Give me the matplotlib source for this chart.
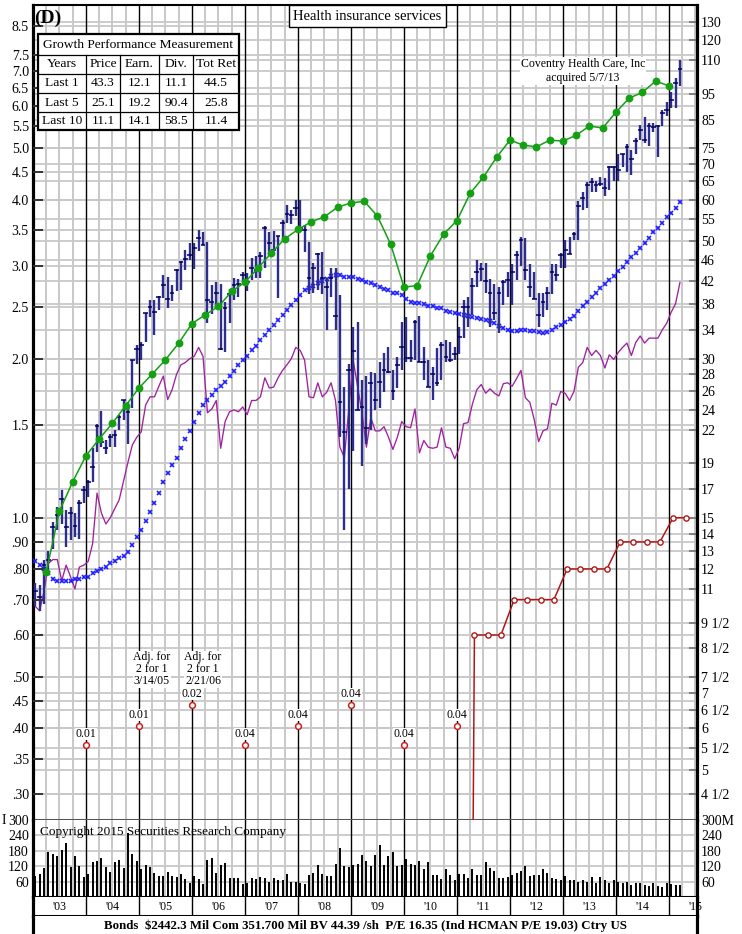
import numpy as np
import matplotlib
matplotlib.use("Agg")
import matplotlib.pyplot as plt
from matplotlib.patches import Rectangle
from matplotlib.ticker import NullLocator

plt.rcParams['font.family'] = ['Liberation Serif', 'DejaVu Serif']

W, H = 742, 934

# monthly price bars, Jan 2003 .. Mar 2015 (right-hand price scale)
price_high = [11.3, 11.2, 12.5, 13.0, 14.7, 15.7, 16.9, 15.5, 15.7, 15.3, 16.2, 17.2, 17.7,
              20.3, 22.6, 23.9, 21.0, 21.6, 22.0, 23.5, 25.0, 24.8, 29.8, 31.8, 32.2, 36.6,
              38.7, 38.7, 39.4, 43.2, 42.8, 41.3, 44.3, 45.8, 48.1, 49.7, 49.7, 52.5, 52.1,
              49.9, 41.3, 41.8, 41.6, 38.4, 40.7, 42.6, 42.4, 43.7, 43.5, 46.6, 47.0, 47.7,
              53.4, 52.0, 52.3, 51.2, 54.8, 58.5, 57.3, 59.8, 59.8, 53.6, 49.9, 45.5, 47.5,
              47.7, 42.6, 44.5, 44.5, 39.5, 26.5, 29.3, 34.5, 35.2, 27.3, 27.8, 28.3, 28.2,
              29.5, 30.8, 31.5, 28.5, 30.2, 35.2, 36.0, 32.5, 35.5, 36.1, 31.5, 29.8, 28.9,
              31.4, 32.2, 32.5, 32.2, 31.5, 34.4, 38.7, 39.2, 42.6, 46.1, 45.5, 45.5, 42.4,
              41.6, 41.0, 42.2, 43.7, 45.3, 47.9, 51.0, 50.7, 45.3, 43.7, 40.0, 40.0, 41.0,
              45.3, 45.3, 47.5, 50.3, 51.0, 52.0, 59.5, 62.0, 64.7, 66.0, 65.0, 66.3, 66.0,
              69.5, 69.5, 73.3, 73.3, 76.3, 74.4, 78.4, 82.9, 86.0, 83.7, 83.7, 83.1, 88.6,
              91.7, 95.9, 102.0, 110.1]
price_low = [10.2, 10.0, 10.3, 11.8, 13.1, 14.2, 14.6, 13.2, 13.6, 13.8, 13.7, 16.0, 16.4,
             17.5, 20.0, 20.4, 19.8, 20.4, 20.4, 22.0, 23.0, 20.7, 24.2, 29.3, 29.8, 32.2,
             35.9, 33.3, 37.1, 39.0, 37.4, 38.5, 40.2, 40.4, 44.1, 46.1, 44.4, 48.0, 49.2,
             35.0, 36.5, 37.4, 31.1, 30.9, 35.0, 38.7, 39.3, 41.8, 40.2, 42.2, 42.6, 42.6,
             44.5, 46.9, 48.1, 39.0, 49.9, 54.2, 53.9, 55.8, 53.0, 47.7, 39.7, 39.9, 40.4,
             39.7, 34.0, 39.2, 34.0, 21.3, 14.2, 17.0, 20.1, 24.0, 18.8, 20.7, 22.0, 24.0,
             24.2, 25.9, 28.2, 25.0, 26.4, 28.5, 29.6, 29.6, 29.8, 29.6, 27.3, 26.5, 25.0,
             26.6, 27.3, 29.5, 29.5, 29.8, 30.6, 32.8, 34.4, 36.3, 40.9, 42.0, 40.0, 34.4,
             35.5, 33.5, 37.9, 39.2, 37.9, 42.2, 45.0, 42.2, 39.2, 38.9, 34.4, 35.9, 37.1,
             39.7, 42.0, 44.5, 44.5, 47.3, 50.3, 50.3, 57.3, 57.8, 61.9, 61.9, 63.5, 61.0,
             62.5, 64.9, 64.9, 69.0, 67.5, 66.7, 73.0, 77.7, 76.7, 75.9, 80.4, 72.3, 82.5,
             86.2, 89.5, 89.5, 98.5]
price_close = [10.9, 10.6, 12.2, 12.5, 14.4, 15.2, 16.3, 14.4, 15.3, 14.5, 16.0, 16.9, 17.5,
               18.7, 22.4, 20.9, 20.3, 21.3, 21.5, 23.3, 25.0, 23.8, 29.8, 31.3, 31.9, 36.6,
               37.5, 36.8, 39.3, 41.4, 38.9, 40.0, 44.1, 45.6, 46.4, 47.1, 48.5, 50.8, 49.2,
               38.7, 38.4, 39.9, 31.3, 37.4, 39.7, 41.3, 41.6, 43.1, 41.8, 44.5, 44.1, 46.9,
               53.0, 49.6, 48.1, 51.2, 54.2, 56.4, 56.1, 57.8, 53.0, 52.5, 42.6, 44.5, 47.3,
               42.6, 40.9, 42.6, 36.1, 24.8, 21.8, 28.5, 31.0, 24.0, 24.3, 22.2, 27.0, 25.0,
               27.1, 28.5, 28.3, 26.0, 29.2, 31.6, 30.1, 30.1, 35.2, 29.6, 29.5, 26.5, 28.0,
               27.0, 31.8, 30.2, 29.8, 30.6, 32.9, 37.5, 37.5, 41.2, 43.7, 44.3, 42.0, 40.0,
               36.6, 39.9, 41.8, 42.2, 43.7, 47.1, 50.3, 44.1, 41.0, 38.9, 36.3, 38.4, 39.9,
               43.7, 43.2, 47.1, 48.1, 47.3, 51.7, 58.3, 60.4, 63.9, 64.7, 63.9, 64.2, 63.0,
               69.0, 69.0, 68.2, 73.0, 75.3, 71.5, 77.4, 81.2, 77.7, 82.5, 82.2, 82.5, 87.5,
               88.6, 92.5, 99.7, 106.0]

# relative strength line (magenta) and average line (blue x), on the price scale
rel_strength = [10.2, 10.0, 10.9, 12.3, 12.5, 12.5, 11.4, 12.2, 11.6, 11.0,
                12.1, 12.2, 12.4, 13.4, 16.7, 15.3, 14.6, 15.0, 15.6, 16.2,
                17.6, 19.1, 20.6, 21.3, 21.8, 24.5, 25.4, 25.4, 26.6, 27.8,
                25.1, 26.2, 28.0, 29.2, 29.5, 30.0, 30.3, 31.5, 30.3, 23.7,
                24.1, 25.0, 20.3, 22.8, 23.8, 24.0, 23.8, 24.3, 23.5, 25.0,
                25.0, 25.4, 27.6, 26.4, 26.5, 27.6, 28.5, 29.2, 30.0, 31.5,
                31.1, 29.8, 25.4, 25.3, 27.0, 25.4, 25.9, 27.0, 25.0, 20.4,
                19.5, 24.0, 29.8, 26.6, 23.7, 20.4, 23.2, 21.9, 21.9, 22.3,
                21.3, 20.2, 21.3, 22.8, 22.3, 22.2, 24.1, 19.9, 21.0, 20.4,
                20.3, 20.4, 22.2, 20.4, 20.3, 19.4, 20.3, 22.6, 22.7, 24.6,
                26.2, 26.8, 25.8, 26.3, 25.8, 25.5, 26.9, 27.0, 26.6, 27.5,
                28.5, 25.3, 24.8, 23.0, 20.9, 21.9, 22.1, 24.7, 24.5, 26.0,
                25.8, 25.0, 26.0, 28.9, 29.5, 31.5, 30.4, 31.1, 30.4, 28.8,
                30.5, 29.9, 30.8, 31.5, 32.1, 30.4, 32.2, 33.1, 32.1, 32.8,
                32.8, 32.8, 34.0, 35.0, 36.7, 38.1, 41.8]
avg_line = [12.4, 12.2, 12.0, 11.8, 11.5, 11.4, 11.4, 11.4, 11.4, 11.5,
            11.5, 11.6, 11.6, 11.8, 11.9, 12.0, 12.1, 12.3, 12.4, 12.6,
            12.7, 12.9, 13.3, 13.8, 14.2, 14.8, 15.4, 16.0, 16.7, 17.5,
            18.2, 18.9, 19.5, 20.3, 21.1, 21.9, 22.8, 23.7, 24.5, 25.0,
            25.6, 26.2, 26.6, 27.1, 27.8, 28.4, 29.2, 29.8, 30.4, 31.1,
            31.7, 32.5, 33.3, 34.0, 34.7, 35.5, 36.3, 37.1, 37.9, 38.7,
            39.5, 40.4, 40.8, 41.2, 41.7, 42.0, 42.4, 43.0, 43.2, 43.2,
            42.8, 42.8, 42.8, 42.4, 42.2, 41.8, 41.7, 41.3, 40.9, 40.6,
            40.4, 40.0, 39.9, 39.5, 38.9, 38.4, 38.2, 38.2, 38.0, 37.7,
            37.7, 37.4, 37.4, 36.9, 36.7, 36.6, 36.4, 36.3, 36.1, 36.0,
            35.8, 35.7, 35.5, 35.3, 35.0, 34.6, 34.3, 34.0, 33.8, 33.8,
            34.0, 34.0, 33.8, 33.8, 33.7, 33.5, 33.7, 34.0, 34.4, 34.7,
            35.2, 35.7, 36.1, 36.9, 37.7, 38.4, 39.2, 39.9, 40.8, 41.5,
            42.2, 43.0, 43.9, 44.7, 45.7, 46.7, 47.5, 48.6, 49.7, 50.8,
            52.1, 53.0, 54.2, 55.6, 56.6, 57.8, 59.3]

# monthly volume, millions
volume = [82, 90, 112, 174, 169, 158, 184, 210, 116, 158, 121, 77, 90, 138, 142, 152,
          116, 99, 138, 145, 112, 250, 169, 141, 110, 125, 116, 95, 82, 80, 99, 82,
          77, 90, 69, 56, 82, 69, 51, 145, 152, 95, 125, 134, 73, 73, 73, 51,
          56, 73, 69, 77, 73, 60, 73, 67, 67, 90, 60, 60, 54, 51,
          86, 95, 125, 90, 82, 80, 130, 190, 120, 118, 125, 128, 165, 140,
          121, 165, 204, 125, 158, 175, 119, 125, 148, 128, 125, 141, 110, 138,
          86, 86, 69, 108, 86, 67, 90, 90, 73, 108, 86, 86, 136, 112, 103, 73,
          73, 77, 86, 93, 102, 121, 82, 86, 86, 108, 93, 73, 69, 67, 80, 67,
          67, 60, 67, 60, 77, 56, 77, 67, 56, 67, 60, 54, 60, 47, 54, 56,
          47, 43, 56, 43, 40, 54, 50, 47, 47]

# quarterly earnings per share (left-hand scale), Q1 2003 .. Q4 2014
eps = [0.79, 1.03, 1.17, 1.31, 1.41, 1.51, 1.63, 1.76, 1.87, 1.99,
       2.14, 2.33, 2.42, 2.51, 2.68, 2.79, 2.97, 3.17, 3.37, 3.51,
       3.63, 3.71, 3.87, 3.94, 3.97, 3.72, 3.29, 2.73, 2.75, 3.13,
       3.44, 3.65, 4.11, 4.41, 4.81, 5.18, 5.07, 5.03, 5.18, 5.16,
       5.29, 5.51, 5.46, 5.85, 6.22, 6.38, 6.70, 6.56]

# annual dividend rate (left-hand scale)
div_dates = [2011.25, 2011.33, 2011.58, 2011.83, 2012.08, 2012.33, 2012.58, 2012.83, 2013.08,
             2013.33, 2013.58, 2013.83, 2014.08, 2014.33, 2014.58, 2014.83, 2015.08, 2015.33]
div_rate = [0.04, 0.60, 0.60, 0.60, 0.70, 0.70, 0.70, 0.70, 0.80,
            0.80, 0.80, 0.80, 0.90, 0.90, 0.90, 0.90, 1.00, 1.00]

# dividends paid per year, marked on the year lines
div_years = [2004, 2005, 2006, 2007, 2008, 2009, 2010, 2011]
div_paid = ['0.01', '0.01', '0.02', '0.04', '0.04', '0.04', '0.04', '0.04']

# growth performance table
perf_header = ['Years', 'Price', 'Earn.', 'Div.', 'Tot Ret']
perf_years = ['Last 1', 'Last 5', 'Last 10']
perf_price = ['43.3', '25.1', '11.1']
perf_earn = ['12.1', '19.2', '14.1']
perf_div = ['11.1', '90.4', '58.5']
perf_tot = ['44.5', '25.8', '11.4']

price_ticks = [130, 120, 110, 95, 85, 75, 70, 65, 60, 55, 50, 46, 42, 38, 34, 30, 28, 26,
               24, 22, 19, 17, 15, 14, 13, 12, 11, 9.5, 8.5, 7.5, 7, 6.5, 6, 5.5, 5, 4.5]
price_labels = ['130', '120', '110', '95', '85', '75', '70', '65', '60', '55', '50', '46',
                '42', '38', '34', '30', '28', '26', '24', '22', '19', '17', '15', '14', '13',
                '12', '11', '9 1/2', '8 1/2', '7 1/2', '7', '6 1/2', '6', '5 1/2', '5', '4 1/2']
eps_ticks = [8.5, 7.5, 7.0, 6.5, 6.0, 5.5, 5.0, 4.5, 4.0, 3.5, 3.0, 2.5, 2.0, 1.5, 1.0,
             0.9, 0.8, 0.7, 0.6, 0.5, 0.45, 0.4, 0.35, 0.3]
eps_labels = ['8.5', '7.5', '7.0', '6.5', '6.0', '5.5', '5.0', '4.5', '4.0', '3.5', '3.0',
              '2.5', '2.0', '1.5', '1.0', '.90', '.80', '.70', '.60', '.50', '.45', '.40',
              '.35', '.30']
vol_ticks = [60, 120, 180, 240, 300]
years = list(range(2003, 2016))
year_labels = ["'03", "'04", "'05", "'06", "'07", "'08", "'09", "'10", "'11", "'12",
               "'13", "'14", "'15"]

RATIO = 15          # price scale = 15 x earnings scale
X0, X1 = 2003.0, 2015.53
P0, P1 = 4.02, 140.0
GRAY = '#c8c8c8'

months = 2003 + (np.arange(len(price_close)) + 0.5) / 12
quarters = 2003 + (np.arange(len(eps)) + 1) / 4


def px_box(left, top, right, bottom):
    return [left / W, 1 - bottom / H, (right - left) / W, (bottom - top) / H]


def draw_vgrid(a):
    for yr in years:
        for q in (0.25, 0.5, 0.75):
            a.axvline(yr + q, color=GRAY, lw=1.4, zorder=0)
        if yr > 2003:
            a.axvline(yr, color='black', lw=1.0, zorder=1)


def thick_sides(a):
    a.spines['left'].set_linewidth(2.3)
    a.spines['right'].set_linewidth(2.3)


fig = plt.figure(figsize=(W / 100, H / 100), dpi=100)

# ---------------- price panel ----------------
ax = fig.add_axes(px_box(33, 5, 697, 820))
axl = ax.twinx()      # left-hand earnings scale (twinx moves ax ticks, so set them after)
ax.set_yscale('log')
ax.set_xlim(X0, X1)
ax.set_ylim(P0, P1)
ax.set_xticks([])
draw_vgrid(ax)
for v in price_ticks:
    ax.axhline(v, color=GRAY, lw=1.3, zorder=0)
for v in eps_ticks:
    ax.axhline(v * RATIO, color=GRAY, lw=1.3, zorder=0)

ax.yaxis.tick_right()
ax.set_yticks(price_ticks)
ax.set_yticklabels(price_labels)
ax.yaxis.set_minor_locator(NullLocator())
ax.tick_params(axis='y', which='both', direction='in', length=6, width=1.4, color='#808080',
               pad=3, labelsize=10, left=False, right=True, labelleft=False, labelright=True)
thick_sides(ax)
ax.spines['top'].set_linewidth(1.5)
ax.spines['bottom'].set_linewidth(2.2)
ax.spines['bottom'].set_color('#555555')

axl.set_yscale('log')
axl.set_ylim(P0 / RATIO, P1 / RATIO)
axl.yaxis.tick_left()
axl.set_yticks(eps_ticks)
axl.set_yticklabels(eps_labels)
axl.yaxis.set_minor_locator(NullLocator())
axl.tick_params(axis='y', which='both', direction='in', length=7, width=1.4, color='#333333',
                pad=3, labelsize=10, left=True, right=False, labelleft=True, labelright=False)
for s in axl.spines.values():
    s.set_visible(False)

# data
ax.plot(months, rel_strength, color='#a0209f', lw=0.95, zorder=3)
ax.plot(months, avg_line, 'x', color='#1f1fff', ms=3.2, mew=1.2, zorder=3)
ax.vlines(months, price_low, price_high, color='#2d2d8f', lw=1.7, zorder=4)
ax.hlines(price_close, months - 0.045, months + 0.045, color='#000060', lw=1.1, zorder=4)
ax.plot(quarters, np.array(eps) * RATIO, '-o', color='#13a013', lw=1.1, ms=4.6, zorder=5)
div_price = np.array(div_rate) * RATIO
ax.plot(div_dates, div_price, color='#b01818', lw=1.1, zorder=5)
ax.plot(div_dates[1:], div_price[1:], 'o', mfc='white', mec='#b01818', mew=1.0, ms=3.8, zorder=6)

# dividend paid markers (staggered heights)
div_label_y = [5.57, 6.05, 6.63]
for i, (yr, lbl) in enumerate(zip(div_years, div_paid)):
    yv = div_label_y[i % 3]
    ax.plot(yr, yv, 'o', mfc='white', mec='#cc2020', mew=1.1, ms=4.2, zorder=6)
    ax.annotate(lbl, (yr, yv), xytext=(0, 8), textcoords='offset points', ha='center',
                va='center', fontsize=8.5, zorder=6,
                bbox=dict(fc='white', ec='none', pad=0.2))

ax.text(2005.245, 7.75, 'Adj. for\n2 for 1\n3/14/05', ha='center', va='center', fontsize=8.5,
        linespacing=1.0, zorder=6, bbox=dict(fc='white', ec='none', pad=0.3))
ax.text(2006.21, 7.75, 'Adj. for\n2 for 1\n2/21/06', ha='center', va='center', fontsize=8.5,
        linespacing=1.0, zorder=6, bbox=dict(fc='white', ec='none', pad=0.3))
ax.text(2013.38, 105, 'Coventry Health Care, Inc\nacquired 5/7/13', ha='center', va='center',
        fontsize=8.5, linespacing=1.15, zorder=6, bbox=dict(fc='white', ec='none', pad=0.8))

# ---------------- volume panel ----------------
axv = fig.add_axes(px_box(33, 820, 697, 897))
axvl = axv.twinx()
axv.set_xlim(X0, X1)
axv.set_ylim(0, 300)
axv.set_xticks([])
draw_vgrid(axv)
for v in vol_ticks[:-1]:
    axv.axhline(v, color=GRAY, lw=1.3, zorder=0)
axv.vlines(months, 0, volume, color='black', lw=1.4, zorder=3)
axv.yaxis.tick_right()
axv.set_yticks(vol_ticks)
axv.set_yticklabels([str(v) for v in vol_ticks[:-1]] + ['300M'])
axv.tick_params(axis='y', direction='in', length=0, pad=3, labelsize=10,
                left=False, right=True, labelleft=False, labelright=True)
thick_sides(axv)
axv.spines['top'].set_visible(False)
axv.spines['bottom'].set_linewidth(1.5)
axv.text(2003.14, 255, 'Copyright 2015 Securities Research Company', fontsize=9.5,
         va='center', ha='left', zorder=5)

axvl.set_ylim(0, 300)
axvl.yaxis.tick_left()
axvl.set_yticks(vol_ticks)
axvl.set_yticklabels([str(v) for v in vol_ticks])
axvl.tick_params(axis='y', direction='in', length=0, pad=3, labelsize=10,
                 left=True, right=False, labelleft=True, labelright=False)
for s in axvl.spines.values():
    s.set_visible(False)

fig.text(2 / W, 1 - 820 / H, 'I', fontsize=10, va='center', ha='left')

# ---------------- date strip ----------------
axd = fig.add_axes(px_box(33, 897, 697, 916))
axd.set_xlim(X0, X1)
axd.set_ylim(0, 1)
axd.set_xticks([])
axd.set_yticks([])
for yr in years[1:]:
    axd.axvline(yr, color='black', lw=1.0)
for yr, lbl in zip(years, year_labels):
    axd.text(yr + 0.5, 0.5, lbl, ha='center', va='center', fontsize=8.5, clip_on=False)
thick_sides(axd)
axd.spines['top'].set_visible(False)
axd.spines['bottom'].set_linewidth(2.2)

# ---------------- bottom info line ----------------
axb = fig.add_axes(px_box(33, 916, 697, 934))
axb.set_xticks([])
axb.set_yticks([])
thick_sides(axb)
axb.spines['top'].set_visible(False)
axb.spines['bottom'].set_visible(False)
axb.text(0.5, 0.45, 'Bonds  $2442.3 Mil Com 351.700 Mil BV 44.39 /sh  P/E 16.35 '
         '(Ind HCMAN P/E 19.03) Ctry US', ha='center', va='center', fontsize=9.3,
         fontweight='bold', transform=axb.transAxes)

# ---------------- headings ----------------
fig.text(34 / W, 1 - 18 / H, '(D)', fontsize=14, fontweight='bold', va='center', ha='left')
fig.text(367 / W, 1 - 16 / H, 'Health insurance services', ha='center', va='center',
         fontsize=10.5, bbox=dict(boxstyle='square,pad=0.3', fc='white', ec='black', lw=1.0))

# growth performance table
tab = fig.add_axes(px_box(38, 34, 239, 130))
tab.set_xlim(38, 239)
tab.set_ylim(130, 34)
tab.axis('off')
tab.add_patch(Rectangle((38, 34), 201, 96, facecolor='white', edgecolor='black', lw=1.6,
                        clip_on=False))
row_edges = [34, 55, 73.5, 93, 112, 130]
col_edges = [38, 86, 120, 159, 193, 239]
for y in row_edges[1:-1]:
    tab.plot([38, 239], [y, y], color='black', lw=0.9)
for x in col_edges[1:-1]:
    tab.plot([x, x], [row_edges[1], 130], color='black', lw=0.9)
tab.text(138.5, 45, 'Growth Performance Measurement', ha='center', va='center', fontsize=9.7)
rows = [perf_header] + [list(r) for r in zip(perf_years, perf_price, perf_earn, perf_div, perf_tot)]
for r, cells in enumerate(rows):
    yc = (row_edges[r + 1] + row_edges[r + 2]) / 2
    for c, txt in enumerate(cells):
        xc = (col_edges[c] + col_edges[c + 1]) / 2
        tab.text(xc, yc, txt, ha='center', va='center', fontsize=9.7)

fig.savefig('out.png', dpi=100)
